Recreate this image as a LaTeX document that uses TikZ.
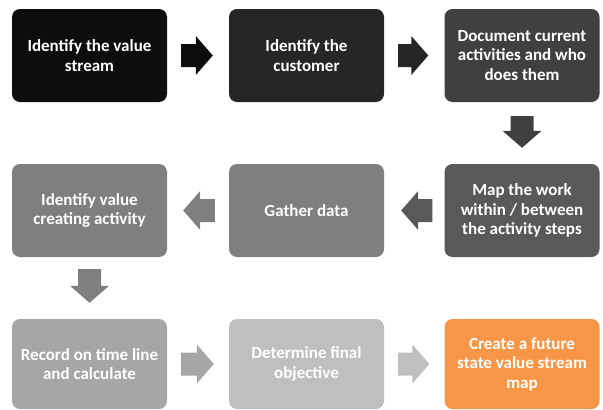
\documentclass[tikz,border=0pt]{standalone}
\usepackage{fontspec}
\setmainfont{Carlito}
\usetikzlibrary{calc}
\definecolor{cA}{HTML}{0D0D0D}
\definecolor{cB}{HTML}{262626}
\definecolor{cC}{HTML}{404040}
\definecolor{cD}{HTML}{595959}
\definecolor{cE}{HTML}{7F7F7F}
\definecolor{cF}{HTML}{7F7F7F}
\definecolor{cG}{HTML}{A6A6A6}
\definecolor{cH}{HTML}{BFBFBF}
\definecolor{cI}{HTML}{F79646}
\tikzset{
  stepbox/.style={rounded corners=8pt, minimum width=155pt, minimum height=93pt,
    inner sep=0pt, text=white, align=center,
    font=\fontsize{17}{19.5}\selectfont\bfseries},
}
% block arrow between two named anchors: #1 from, #2 to, #3 colour, #4 start gap, #5 end gap
\newcommand\blockarrow[5]{%
  \coordinate (s) at ($(#1)!#4!(#2)$);
  \coordinate (t) at ($(#2)!#5!(#1)$);
  \coordinate (h) at ($(t)!17pt!(s)$);
  \fill[#3] ($(s)!11.5pt!90:(t)$) -- ($(h)!11.5pt!-90:(s)$) -- ($(h)!19.5pt!-90:(s)$)
    -- (t) -- ($(h)!19.5pt!90:(s)$) -- ($(h)!11.5pt!90:(s)$) -- ($(s)!11.5pt!-90:(t)$) -- cycle;}
\begin{document}
\begin{tikzpicture}[x=1pt,y=-1pt]
\useasboundingbox (0,0) rectangle (603,410);
\node[stepbox, fill=cA] (b1) at (89.5,55.5) {Identify the value\\stream};
\node[stepbox, fill=cB] (b2) at (306.5,55.5) {Identify the\\customer};
\node[stepbox, fill=cC] (b3) at (522,55.5) {Document current\\activities and who\\does them};
\node[stepbox, fill=cD] (b4) at (522,210.5) {Map the work\\within / between\\the activity steps};
\node[stepbox, fill=cE] (b5) at (306.5,210.5) {Gather data};
\node[stepbox, fill=cF] (b6) at (89.5,210.5) {Identify value\\creating activity};
\node[stepbox, fill=cG, minimum height=90pt] (b7) at (89.5,364) {Record on time line\\and calculate};
\node[stepbox, fill=cH, minimum height=90pt] (b8) at (306.5,364) {Determine final\\objective};
\node[stepbox, fill=cI, minimum height=90pt] (b9) at (522,364) {Create a future\\state value stream\\map};
\blockarrow{b1.east}{b2.west}{cA}{14pt}{16pt}
\blockarrow{b2.east}{b3.west}{cB}{14pt}{16pt}
\blockarrow{b3.south}{b4.north}{cC}{14pt}{16pt}
\blockarrow{b4.west}{b5.east}{cD}{12pt}{17pt}
\blockarrow{b5.west}{b6.east}{cE}{14pt}{16pt}
\blockarrow{b6.south}{b7.north}{cF}{12pt}{16pt}
\blockarrow{b7.east}{b8.west}{cG}{14pt}{15pt}
\blockarrow{b8.east}{b9.west}{cH}{14pt}{15pt}
\end{tikzpicture}
\end{document}
